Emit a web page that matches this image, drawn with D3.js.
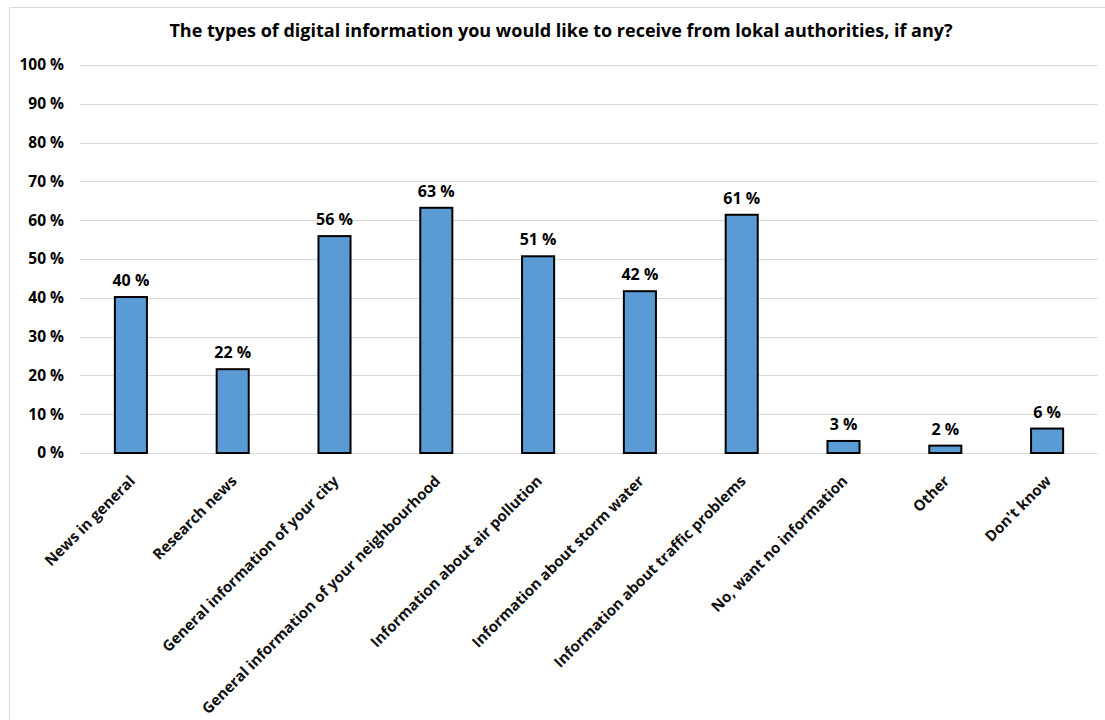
<!DOCTYPE html>
<html>
<head>
<meta charset="utf-8">
<script src="https://cdn.jsdelivr.net/npm/d3@7"></script>
<style>
  body { margin: 0; background: #fff; }
  svg { font-family: "Open Sans", Lato, sans-serif; }
  .grid line { stroke: #d9d9d9; stroke-width: 1; }
  .ytick { font-size: 15.5px; font-weight: bold; fill: #000; }
  .xlab { font-size: 15px; font-weight: bold; fill: #111; }
  .val { font-size: 16px; font-weight: bold; fill: #000; }
</style>
</head>
<body>
<svg width="1105" height="720"></svg>
<script>
var categories = ["News in general", "Research news", "General information of your city",
    "General information of your neighbourhood", "Information about air pollution",
    "Information about storm water", "Information about traffic problems",
    "No, want no information", "Other", "Don't know"];
var values = [40.2, 21.6, 55.9, 63.2, 50.7, 41.7, 61.4, 3.1, 1.9, 6.3];
var yTicks = [0, 10, 20, 30, 40, 50, 60, 70, 80, 90, 100];
var title = "The types of digital information you would like to receive from lokal authorities, if any?";

var svg = d3.select("svg");
var margin = {"top": 65, "right": 7, "bottom": 267, "left": 80};
var width = +svg.attr("width") - margin.left - margin.right;
var height = +svg.attr("height") - margin.top - margin.bottom;

// chart frame (only top and left edges are visible)
svg.append("line").attr("x1", 9.5).attr("x2", 1105).attr("y1", 7.5).attr("y2", 7.5)
    .style("stroke", "#d9d9d9");
svg.append("line").attr("x1", 9.5).attr("x2", 9.5).attr("y1", 7.5).attr("y2", 720)
    .style("stroke", "#d9d9d9");

svg.append("text")
    .attr("x", 561)
    .attr("y", 37)
    .attr("text-anchor", "middle")
    .style("font-size", "18px")
    .style("font-weight", "bold")
    .text(title);

var g = svg.append("g").attr("transform", "translate(" + margin.left + "," + margin.top + ")");

var x = d3.scaleBand().domain(categories).range([0, width]).paddingInner(0.685).paddingOuter(0.3425);
var y = d3.scaleLinear().domain([0, 100]).range([height, 0]);

g.append("g").attr("class", "grid")
    .selectAll("line")
    .data(yTicks)
    .enter().append("line")
    .attr("x1", 0).attr("x2", width)
    .attr("y1", function(d){ return Math.round(y(d)) + 0.5; })
    .attr("y2", function(d){ return Math.round(y(d)) + 0.5; });

g.selectAll(".ytick")
    .data(yTicks)
    .enter().append("text")
    .attr("class", "ytick")
    .attr("x", -16)
    .attr("y", function(d){ return y(d); })
    .attr("dy", "0.35em")
    .attr("text-anchor", "end")
    .text(function(d){ return d + " %"; });

g.selectAll(".bar")
    .data(values)
    .enter().append("rect")
    .attr("class", "bar")
    .attr("x", function(d, i){ return x(categories[i]); })
    .attr("y", function(d){ return y(d); })
    .attr("width", x.bandwidth())
    .attr("height", function(d){ return height - y(d); })
    .style("fill", "#5b9bd5")
    .style("stroke", "#000")
    .style("stroke-width", 2);

g.selectAll(".val")
    .data(values)
    .enter().append("text")
    .attr("class", "val")
    .attr("x", function(d, i){ return x(categories[i]) + x.bandwidth() / 2; })
    .attr("y", function(d){ return y(d) - 11; })
    .attr("text-anchor", "middle")
    .text(function(d){ return Math.round(d) + " %"; });

g.selectAll(".xlab")
    .data(categories)
    .enter().append("text")
    .attr("class", "xlab")
    .attr("text-anchor", "end")
    .attr("transform", function(d){
        var cx = x(d) + x.bandwidth() / 2 + 5;
        return "translate(" + cx + "," + (height + 29) + ") rotate(-45)";
    })
    .text(function(d){ return d; });
</script>
</body>
</html>
